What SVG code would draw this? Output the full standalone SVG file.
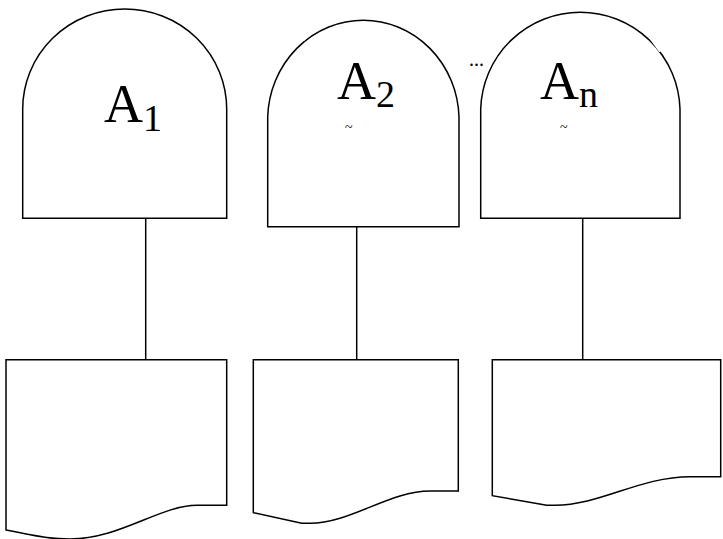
<svg xmlns="http://www.w3.org/2000/svg" width="723" height="539" viewBox="0 0 723 539">
<style>
.s{fill:#fff;stroke:#000;stroke-width:1.5}
.c{fill:none;stroke:#000;stroke-width:1.5}
text{font-family:"Liberation Serif","Times New Roman","DejaVu Serif",serif;fill:#000}
.big{font-size:54px}
.sub{font-size:38px}
.tiny{font-size:14px}
</style>
<rect width="723" height="539" fill="#fff"/>
<g id="connectors">
<line class="c" x1="145.7" y1="218.3" x2="145.7" y2="359.7"/>
<line class="c" x1="356.7" y1="226.7" x2="356.7" y2="359.7"/>
<line class="c" x1="582.7" y1="218.3" x2="582.7" y2="359.7"/>
</g>
<g id="A1">
<path class="s" d="M22.7,218.3 V109 A102,100 0 0 1 226.7,109 V218.3 Z"/>
<text font-family="Liberation Serif, serif" x="104" y="122"><tspan class="big">A</tspan><tspan class="sub" dy="9">1</tspan></text>
</g>
<g id="A2">
<path class="s" d="M267.7,226.7 V117 A95.7,100 0 0 1 459,117 V226.7 Z"/>
<line x1="303" y1="40" x2="307" y2="36" stroke="#fff" stroke-width="3"/>
<text font-family="Liberation Serif, serif" x="337" y="99"><tspan class="big">A</tspan><tspan class="sub" dy="8">2</tspan></text>
<text font-family="Liberation Serif, serif" class="tiny" x="345" y="132">~</text>
</g>
<g id="dots">
<text font-family="Liberation Serif, serif" x="469" y="66" style="font-size:20px">...</text>
</g>
<g id="An">
<path class="s" d="M480.7,218.3 V109 A99.7,100 0 0 1 680,109 V218.3 Z"/>
<line x1="650" y1="36" x2="661" y2="51" stroke="#fff" stroke-width="4"/>
<text font-family="Liberation Serif, serif" x="540" y="99"><tspan class="big">A</tspan><tspan class="sub" dy="8">n</tspan></text>
<text font-family="Liberation Serif, serif" class="tiny" x="560" y="132">~</text>
</g>
<g id="D1">
<path class="s" d="M6,359.7 H226.7 V505.3 H197 C160,505.3 120,539 70,539 C55,539 45,538 6,530 Z"/>
</g>
<g id="D2">
<path class="s" d="M253.3,359.7 H458.3 V491 H430 C390,491 350,523.3 310,523.3 L301.7,523.3 L253.3,512.7 Z"/>
</g>
<g id="D3">
<path class="s" d="M492.3,359.7 H720.7 V476.7 H690 C640,476.7 600,505.3 555,505.3 L546.7,505.3 L492.3,495.7 Z"/>
</g>
</svg>
